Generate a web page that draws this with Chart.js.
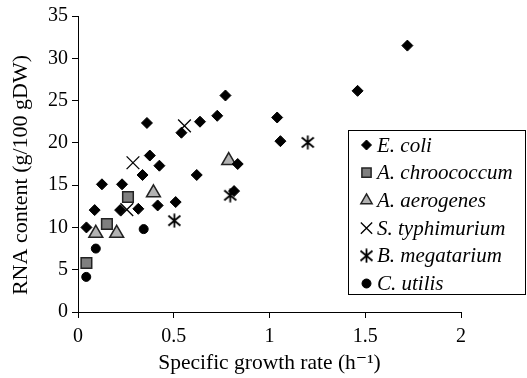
<!DOCTYPE html>
<html>
<head>
<meta charset="UTF-8">
<title>RNA content vs growth rate</title>
<style>
body { margin: 0; background: #fff; }
</style>
</head>
<body>
<canvas id="myChart" width="527" height="378"></canvas>
<script src="https://cdn.jsdelivr.net/npm/chart.js@4.4.0/dist/chart.umd.min.js"></script>
<script type="text/javascript">
// data
const seriesNames = ['E. coli', 'A. chroococcum', 'A. aerogenes', 'S. typhimurium', 'B. megatarium', 'C. utilis'];

const ecoliX = [0.044, 0.087, 0.125, 0.22, 0.23, 0.315, 0.337, 0.36, 0.375, 0.416, 0.425, 0.51, 0.54, 0.62, 0.637, 0.727, 0.77, 0.815, 0.834, 1.04, 1.057, 1.46, 1.72];
const ecoliY = [10.0, 12.05, 15.1, 12.05, 15.1, 12.2, 16.2, 22.35, 18.5, 12.6, 17.3, 13.0, 21.2, 16.2, 22.5, 23.2, 25.6, 14.3, 17.5, 23.0, 20.2, 26.15, 31.5];

const chroococcumX = [0.044, 0.151, 0.261];
const chroococcumY = [5.8, 10.4, 13.6];

const aerogenesX = [0.093, 0.202, 0.394, 0.787];
const aerogenesY = [9.3, 9.3, 14.1, 17.9];

const typhimuriumX = [0.255, 0.287, 0.556];
const typhimuriumY = [12.1, 17.65, 22.0];

const megatariumX = [0.503, 0.795, 1.2];
const megatariumY = [10.8, 13.8, 20.05];

const utilisX = [0.043, 0.093, 0.343];
const utilisY = [4.15, 7.5, 9.8];

const xTicks = [0, 0.5, 1, 1.5, 2];
const yTicks = [0, 5, 10, 15, 20, 25, 30, 35];

function pts(xs, ys) {
	return xs.map(function(x, i) { return {x: x, y: ys[i]}; });
}

// asterisk marker (vertical bar + X), drawn once on a small canvas
const star = document.createElement('canvas');
star.width = 15; star.height = 15;
(function() {
	const c = star.getContext('2d');
	c.strokeStyle = '#000';
	c.lineWidth = 1.8;
	c.beginPath();
	c.moveTo(7.5, 0.5); c.lineTo(7.5, 14.5);
	c.moveTo(1.5, 2.5); c.lineTo(13.5, 12.5);
	c.moveTo(1.5, 12.5); c.lineTo(13.5, 2.5);
	c.stroke();
})();

const serif = "'Liberation Serif', 'DejaVu Serif', serif";

// legend drawn inside the plot, like the original
const boxLegend = {
	id: 'boxLegend',
	afterDraw: function(chart) {
		const ctx = chart.ctx;
		ctx.save();
		ctx.fillStyle = '#fff';
		ctx.fillRect(348.5, 130.5, 177, 164);
		ctx.strokeStyle = '#000';
		ctx.lineWidth = 1;
		ctx.strokeRect(348.5, 130.5, 177, 164);
		ctx.font = 'italic 21px ' + serif;
		ctx.textBaseline = 'middle';
		chart.data.datasets.forEach(function(ds, i) {
			const y = 145 + i * 27.7;
			// drawPoint uses the current ctx colours
			ctx.fillStyle = ds.backgroundColor;
			ctx.strokeStyle = ds.borderColor;
			ctx.lineWidth = ds.borderWidth;
			Chart.helpers.drawPoint(ctx, {
				pointStyle: ds.pointStyle,
				radius: ds.legendRadius,
				borderWidth: ds.borderWidth,
				rotation: 0
			}, 366.5, y);
			ctx.fillStyle = '#000';
			ctx.fillText(ds.label, 377, y + 1);
		});
		ctx.restore();
	}
};

const ctx = document.getElementById('myChart').getContext('2d');
const chart = new Chart(ctx, {
	type: 'scatter',
	data: {
		datasets: [{
			label: seriesNames[0],
			data: pts(ecoliX, ecoliY),
			pointStyle: 'rectRot',
			pointRadius: 5.5,
			legendRadius: 5,
			backgroundColor: '#000',
			borderColor: '#000',
			borderWidth: 1
		}, {
			label: seriesNames[1],
			data: pts(chroococcumX, chroococcumY),
			pointStyle: 'rect',
			pointRadius: 7.5,
			legendRadius: 6.5,
			backgroundColor: '#7f7f7f',
			borderColor: '#222',
			borderWidth: 1.5
		}, {
			label: seriesNames[2],
			data: pts(aerogenesX, aerogenesY),
			pointStyle: 'triangle',
			pointRadius: 8,
			legendRadius: 6.5,
			backgroundColor: '#b2b2b2',
			borderColor: '#222',
			borderWidth: 1.5
		}, {
			label: seriesNames[3],
			data: pts(typhimuriumX, typhimuriumY),
			pointStyle: 'crossRot',
			pointRadius: 9,
			legendRadius: 8,
			backgroundColor: '#000',
			borderColor: '#000',
			borderWidth: 1.3
		}, {
			label: seriesNames[4],
			data: pts(megatariumX, megatariumY),
			pointStyle: star,
			pointRadius: 8,
			legendRadius: 8,
			backgroundColor: '#000',
			borderColor: '#000',
			borderWidth: 1
		}, {
			label: seriesNames[5],
			data: pts(utilisX, utilisY),
			pointStyle: 'circle',
			pointRadius: 4.5,
			legendRadius: 4.5,
			backgroundColor: '#000',
			borderColor: '#000',
			borderWidth: 1
		}]
	},
	options: {
		responsive: false,
		animation: false,
		layout: { padding: { top: 14, right: 66, left: 0, bottom: 0 } },
		plugins: {
			legend: { display: false },
			tooltip: { enabled: false }
		},
		scales: {
			x: {
				type: 'linear',
				min: 0,
				max: 2,
				afterBuildTicks: function(scale) {
					scale.ticks = xTicks.map(function(v) { return {value: v}; });
				},
				afterFit: function(scale) { scale.height = 66; },
				grid: { display: true, drawOnChartArea: false, drawTicks: true, tickLength: 6, color: '#000' },
				border: { display: true, color: '#000', width: 1 },
				ticks: {
					color: '#000',
					padding: 7,
					font: { family: serif, size: 20 },
					callback: function(v) { return String(v); }
				},
				title: {
					display: true,
					text: 'Specific growth rate (h\u207B\u00B9)',
					color: '#000',
					font: { family: serif, size: 21.5 },
					padding: { top: 0, bottom: 2 }
				}
			},
			y: {
				type: 'linear',
				min: 0,
				max: 35,
				afterBuildTicks: function(scale) {
					scale.ticks = yTicks.map(function(v) { return {value: v}; });
				},
				afterFit: function(scale) { scale.width = 78; },
				grid: { display: true, drawOnChartArea: false, drawTicks: true, tickLength: 6, color: '#000' },
				border: { display: true, color: '#000', width: 1 },
				ticks: {
					color: '#000',
					padding: 4,
					font: { family: serif, size: 20 },
					callback: function(v) { return String(v); }
				},
				title: {
					display: true,
					// trailing spaces nudge the rotated title down, as in the original
					text: 'RNA content (g/100 gDW)    ',
					color: '#000',
					font: { family: serif, size: 22 },
					padding: { top: 8, bottom: 0 }
				}
			}
		}
	},
	plugins: [boxLegend]
});
</script>
</body>
</html>
